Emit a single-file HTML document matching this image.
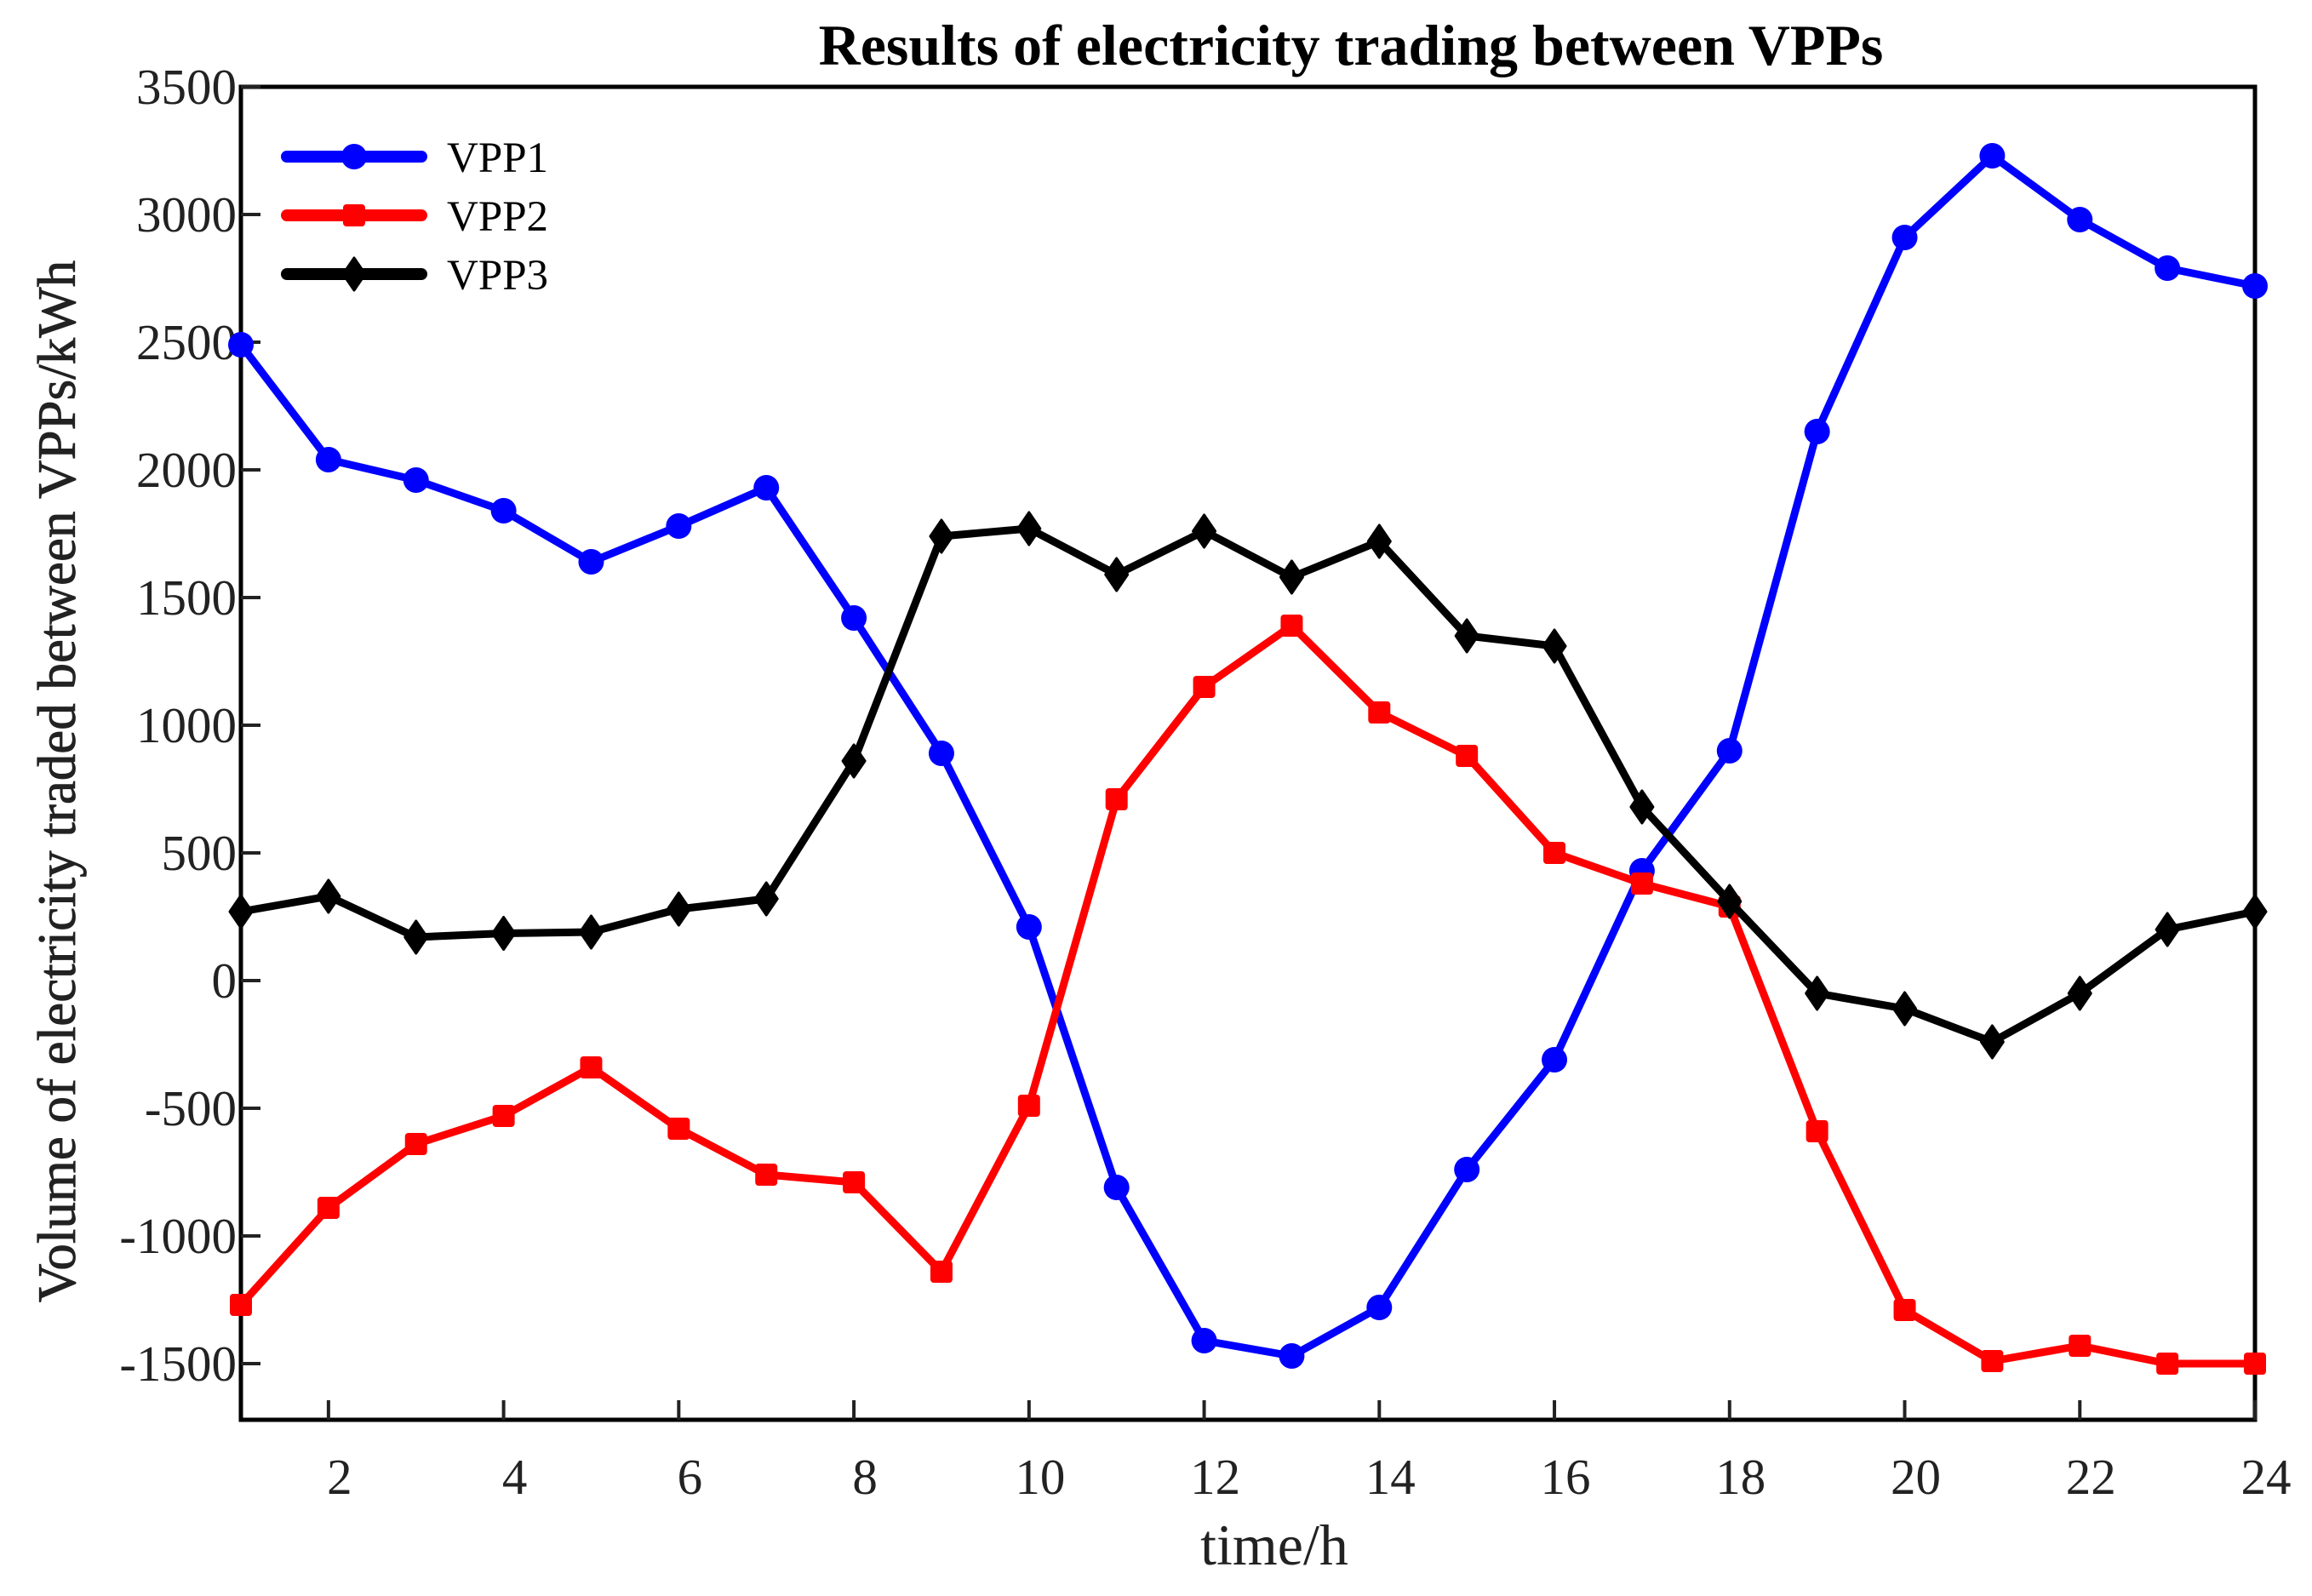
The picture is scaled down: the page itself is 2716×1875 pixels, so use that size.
<!DOCTYPE html>
<html><head><meta charset="utf-8"><style>
html,body{margin:0;padding:0;background:#fff;}
svg{display:block;font-family:"Liberation Serif",serif;}
</style></head><body>
<svg id="chart" width="2716" height="1875" viewBox="0 0 2716 1875" xmlns="http://www.w3.org/2000/svg">
<text x="1587" y="76" font-size="68" font-weight="bold" text-anchor="middle" fill="#000">Results of electricity trading between VPPs</text>
<rect x="283" y="102" width="2366" height="1566" fill="none" stroke="#000" stroke-width="5"/>
<g id="yticks"></g>
<g id="xticks"></g>
<g id="series"></g>
<text x="1497" y="1838" font-size="68" text-anchor="middle" fill="#222">time/h</text>
<text transform="translate(88,918) rotate(-90)" font-size="63" text-anchor="middle" fill="#222" stroke="#222" stroke-width="0.8">Volume of electricity traded between VPPs/kWh</text>
<g id="legend"></g>
</svg>
<script>
const hours = [1,2,3,4,5,6,7,8,9,10,11,12,13,14,15,16,17,18,19,20,21,22,23,24];
const vpp1 = [2490,2040,1960,1840,1640,1780,1930,1420,890,210,-810,-1410,-1470,-1280,-740,-310,430,900,2150,2910,3230,2980,2790,2720];
const vpp2 = [-1270,-890,-640,-530,-340,-580,-760,-790,-1140,-490,710,1150,1390,1050,880,500,380,290,-590,-1290,-1490,-1430,-1500,-1500];
const vpp3 = [270,330,170,185,190,280,320,860,1740,1770,1590,1760,1580,1720,1350,1310,680,310,-50,-110,-240,-50,200,270];
const yTicks = [-1500,-1000,-500,0,500,1000,1500,2000,2500,3000,3500];
const xTicks = [2,4,6,8,10,12,14,16,18,20,22,24];
const seriesNames = ["VPP1","VPP2","VPP3"];

const NS="http://www.w3.org/2000/svg";
const L=283,R=2649,T=102,B=1668,XMIN=1,XMAX=24,YMAX=3500,YMIN=-1720;
const xs=v=>L+(v-XMIN)/(XMAX-XMIN)*(R-L);
const ys=v=>T+(YMAX-v)/(YMAX-YMIN)*(B-T);
function mk(tag,attrs,parent){const e=document.createElementNS(NS,tag);for(const k in attrs)e.setAttribute(k,attrs[k]);parent.appendChild(e);return e;}

const yg=document.getElementById('yticks');
yTicks.forEach(v=>{
  const y=ys(v);
  const t=mk('line',{x1:L,x2:L+23,y1:y,y2:y,stroke:'#222','stroke-width':4},yg);
  
  
  const tx=mk('text',{x:L-5,y:y+20,'font-size':59,'text-anchor':'end',fill:'#222'},yg);
  tx.textContent=v;
  
  
});
const xg=document.getElementById('xticks');
xTicks.forEach(v=>{
  const x=xs(v);
  const t=mk('line',{x1:x,x2:x,y1:B,y2:B-23,stroke:'#222','stroke-width':4},xg);
  
  
  const tx=mk('text',{x:x+13,y:1755,'font-size':59,'text-anchor':'middle',fill:'#222'},xg);
  tx.textContent=v;
  
  
});

function marker(kind,cx,cy,color,g){
  let m;
  if(kind==='circle') m=mk('circle',{cx:cx,cy:cy,r:15,fill:color},g);
  else if(kind==='square') m=mk('rect',{x:cx-13,y:cy-13,width:26,height:26,rx:4,fill:color},g);
  else m=mk('polygon',{points:`${cx},${cy-19} ${cx+13},${cy} ${cx},${cy+19} ${cx-13},${cy}`,fill:color,stroke:color,'stroke-width':3,'stroke-linejoin':'round'},g);
  return m;
}
const sg=document.getElementById('series');
const defs=[[vpp1,'#0000ff','circle'],[vpp2,'#ff0000','square'],[vpp3,'#000000','diamond']];
defs.forEach(([data,color,kind],i)=>{
  const g=mk('g',{},sg);
  
  
  const pts=data.map((v,j)=>xs(hours[j])+','+ys(v)).join(' ');
  const pl=mk('polyline',{points:pts,fill:'none',stroke:color,'stroke-width':9,'stroke-linejoin':'round'},g);
  
  
  data.forEach((v,j)=>{
    const m=marker(kind,xs(hours[j]),ys(v),color,g);
    
    
  });
});

const lg=document.getElementById('legend');
defs.forEach(([data,color,kind],i)=>{
  const y=184+i*69;
  const g=mk('g',{},lg);
  
  
  mk('line',{x1:337,x2:495,y1:y,y2:y,stroke:color,'stroke-width':14,'stroke-linecap':'round'},g);
  marker(kind,416,y,color,g);
  const t=mk('text',{x:525,y:y+18,'font-size':51,fill:'#000'},g);
  t.textContent=seriesNames[i];
});
</script>
</body></html>
